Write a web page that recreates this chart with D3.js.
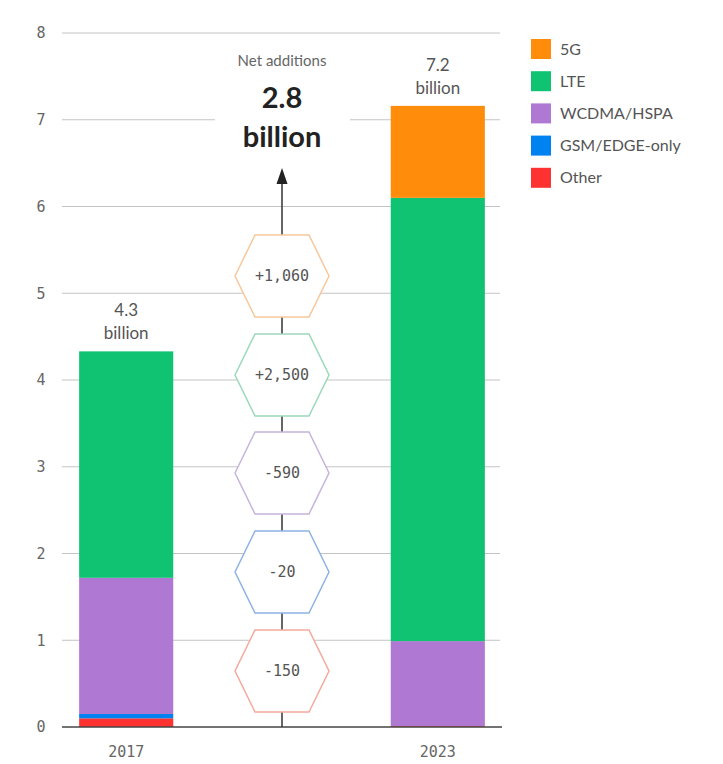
<!DOCTYPE html>
<html>
<head>
<meta charset="utf-8">
<script src="https://cdn.jsdelivr.net/npm/d3@7"></script>
<style>
  body { margin: 0; background: #fff; }
  svg { display: block; }
</style>
</head>
<body>
<div id="chart"></div>
<script>
// data, billions of subscriptions
const years = ['2017', '2023'];
const techs = ['Other', 'GSM/EDGE-only', 'WCDMA/HSPA', 'LTE', '5G'];
const colors = ['#ff3232', '#0082f0', '#af78d2', '#0fc373', '#ff8c0a'];
const values2017 = [0.10, 0.05, 1.57, 2.61, 0];
const values2023 = [0.01, 0, 0.98, 5.11, 1.06];
const totalLabels = ['4.3', '7.2'];
const changes = ['-150', '-20', '-590', '+2,500', '+1,060'];
const hexStroke = ['#f4a99c', '#8fb2e6', '#c8b3dc', '#9bd8bb', '#f8c79c'];
const yTicks = [0, 1, 2, 3, 4, 5, 6, 7, 8];

const width = 723, height = 764;
const svg = d3.select('#chart').append('svg')
    .attr('width', width)
    .attr('height', height);

const y = d3.scaleLinear().domain([0, 8]).range([727, 33]);
const x = d3.scaleBand().domain(years).range([62, 502]).paddingInner(0.698).paddingOuter(0.055);
const midX = 282;

// grid
svg.append('g')
    .selectAll('line')
    .data(yTicks.filter(d => d > 0))
    .enter()
    .append('line')
    .attr('x1', 62).attr('x2', 500)
    .attr('y1', d => y(d)).attr('y2', d => y(d))
    .attr('stroke', '#c4c4c4')
    .attr('stroke-width', 1);

svg.append('g')
    .selectAll('text')
    .data(yTicks)
    .enter()
    .append('text')
    .attr('x', 41)
    .attr('y', d => y(d))
    .attr('dy', '0.35em')
    .attr('text-anchor', 'middle')
    .attr('font-family', 'DejaVu Sans Mono')
    .attr('font-size', 15)
    .attr('fill', '#666')
    .text(d => d);

// stacked bars
const rows = years.map((yr, i) => {
    const vals = i === 0 ? values2017 : values2023;
    const row = { year: yr };
    techs.forEach((t, j) => row[t] = vals[j]);
    return row;
});
const stack = d3.stack().keys(techs)(rows);

svg.append('g')
    .selectAll('g')
    .data(stack)
    .enter()
    .append('g')
    .attr('fill', (d, i) => colors[i])
    .selectAll('rect')
    .data(d => d)
    .enter()
    .append('rect')
    .attr('x', d => x(d.data.year))
    .attr('width', x.bandwidth())
    .attr('y', d => y(d[1]))
    .attr('height', d => y(d[0]) - y(d[1]));

// totals above bars
years.forEach((yr, i) => {
    const top = y(d3.sum(i === 0 ? values2017 : values2023));
    const g = svg.append('g')
        .attr('font-family', 'Lato, "Noto Sans", sans-serif')
        .attr('font-size', 17)
        .attr('fill', '#555')
        .attr('text-anchor', 'middle');
    g.append('text').attr('x', x(yr) + x.bandwidth() / 2).attr('y', top - 35).text(totalLabels[i]);
    g.append('text').attr('x', x(yr) + x.bandwidth() / 2).attr('y', top - 12).text('billion');
});

// baseline
svg.append('line')
    .attr('x1', 62).attr('x2', 502)
    .attr('y1', y(0)).attr('y2', y(0))
    .attr('stroke', '#444')
    .attr('stroke-width', 1.5);

svg.append('g')
    .selectAll('text')
    .data(years)
    .enter()
    .append('text')
    .attr('x', d => x(d) + x.bandwidth() / 2)
    .attr('y', 757)
    .attr('text-anchor', 'middle')
    .attr('font-family', 'DejaVu Sans Mono')
    .attr('font-size', 15)
    .attr('fill', '#666')
    .text(d => d);

// net additions header, white box hides the gridline behind it
svg.append('rect')
    .attr('x', 215).attr('y', 40).attr('width', 135).attr('height', 118)
    .attr('fill', '#fff');
svg.append('text')
    .attr('x', midX).attr('y', 66)
    .attr('text-anchor', 'middle')
    .attr('font-family', 'Lato, "Noto Sans", sans-serif')
    .attr('font-size', 15)
    .attr('fill', '#666')
    .text('Net additions');
svg.append('text')
    .attr('x', midX).attr('y', 108)
    .attr('text-anchor', 'middle')
    .attr('font-family', 'Lato, "Noto Sans", sans-serif')
    .attr('font-weight', 'bold')
    .attr('font-size', 29)
    .attr('fill', '#222')
    .text('2.8');
svg.append('text')
    .attr('x', midX).attr('y', 147)
    .attr('text-anchor', 'middle')
    .attr('font-family', 'Lato, "Noto Sans", sans-serif')
    .attr('font-weight', 'bold')
    .attr('font-size', 29)
    .attr('fill', '#222')
    .text('billion');

// arrow
svg.append('line')
    .attr('x1', midX).attr('x2', midX)
    .attr('y1', y(0)).attr('y2', 182)
    .attr('stroke', '#333')
    .attr('stroke-width', 1.5);
svg.append('path')
    .attr('d', `M${midX},168 L${midX - 5.5},184 L${midX + 5.5},184 Z`)
    .attr('fill', '#222');

// hexagons with the change per technology
const hexCenters = [671, 572, 473, 375, 276];
const hw = 47, hx = 27, hh = 41;
const hexPath = `M${-hw},0 L${-hx},${-hh} L${hx},${-hh} L${hw},0 L${hx},${hh} L${-hx},${hh} Z`;

const hex = svg.append('g')
    .selectAll('g')
    .data(changes)
    .enter()
    .append('g')
    .attr('transform', (d, i) => `translate(${midX},${hexCenters[i]})`);

hex.append('path')
    .attr('d', hexPath)
    .attr('fill', '#fff')
    .attr('stroke', (d, i) => hexStroke[i])
    .attr('stroke-width', 1.5);

hex.append('text')
    .attr('text-anchor', 'middle')
    .attr('dy', '0.35em')
    .attr('font-family', 'DejaVu Sans Mono')
    .attr('font-size', 15)
    .attr('fill', '#555')
    .text(d => d);

// legend
const legendItems = techs.slice().reverse();
const legendColors = colors.slice().reverse();
const legend = svg.append('g')
    .selectAll('g')
    .data(legendItems)
    .enter()
    .append('g')
    .attr('transform', (d, i) => `translate(531,${49 + i * 32.2})`);

legend.append('rect')
    .attr('x', 0).attr('y', -10)
    .attr('width', 20).attr('height', 20)
    .attr('fill', (d, i) => legendColors[i]);

legend.append('text')
    .attr('x', 29)
    .attr('dy', '0.35em')
    .attr('font-family', 'Lato, "Noto Sans", sans-serif')
    .attr('font-size', 16)
    .attr('fill', '#555')
    .text(d => d);
</script>
</body>
</html>
